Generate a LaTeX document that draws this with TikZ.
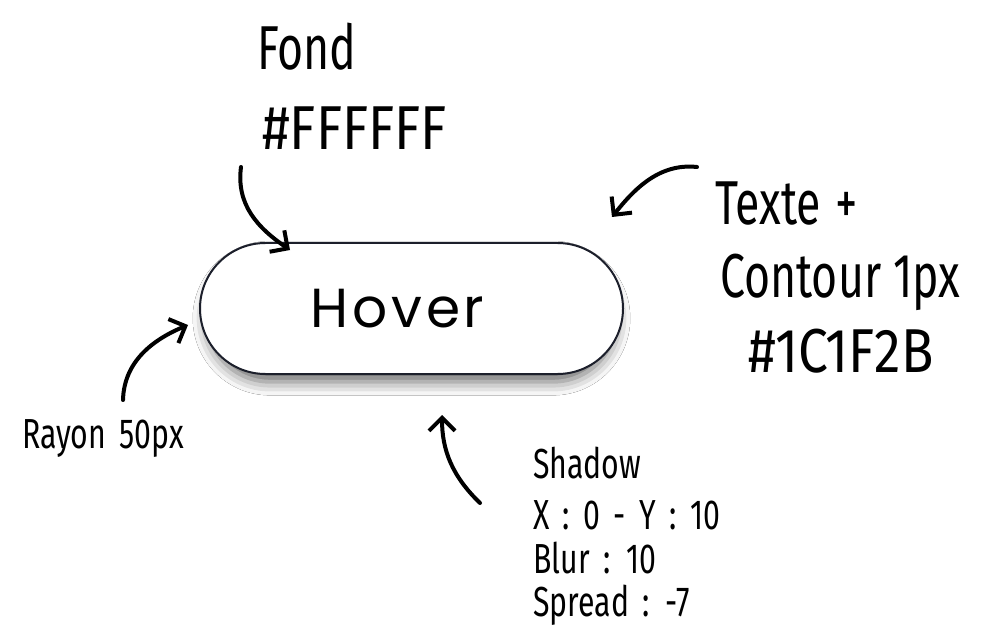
\documentclass[tikz,border=0pt]{standalone}
\usepackage{fontspec}
\setmainfont{Poppins}
\newfontfamily\hoverfont[LetterSpace=7]{Poppins}
\newfontfamily\hand[FakeStretch=0.72]{Fira Sans}
\newfontfamily\handwide[FakeStretch=0.86]{Fira Sans}
\newcommand\smallhand{\hand\fontsize{42}{42}\selectfont\spaceskip 0.32em\relax}
\usetikzlibrary{arrows.meta,shadows.blur}
\definecolor{ink}{HTML}{1C1F2B}
\tikzset{
  note/.style={anchor=base west, inner sep=0pt, text=black, font=\hand\fontsize{62}{62}\selectfont},
  hexnote/.style={anchor=base west, inner sep=0pt, text=black, font=\handwide\fontsize{62}{62}\selectfont},
  smallnote/.style={anchor=base west, inner sep=0pt, text=black, font=\smallhand},
  pointer/.style={draw=black, line width=4pt, line cap=round, line join=round,
    -{Straight Barb[length=13pt,width=26pt,line width=4pt]}},
  pill/.style={draw=ink, line width=2pt, fill=white, rounded corners=65.5pt,
    minimum width=423pt, minimum height=131pt, inner sep=0pt,
    blur shadow={shadow xshift=0pt, shadow yshift=-10pt, shadow blur radius=14pt,
      shadow opacity=60, shadow scale=0.97}},
  label/.style={inner sep=0pt, text=black, font=\hoverfont\fontsize{55}{55}\selectfont}
}
\begin{document}
\begin{tikzpicture}[x=1pt,y=-1pt]
\useasboundingbox (0,0) rectangle (982,628);
\fill[white] (0,0) rectangle (982,628);

\node[pill] (btn) at (411.5,308.5) {};
\node[label] (hover) at ([xshift=-14pt]btn.center) {Hover};

\node[note] (fond) at (257,70) {Fond};
\node[hexnote] (fff) at (262,150) {\#FFFFFF};
\node[note] (texte) at (715,225) {Texte\hspace{14pt}+};
\node[note] (contour) at (720,298) {Contour 1px};
\node[hexnote] (col) at (748,372) {\#1C1F2B};
\node[smallnote] (rayon) at (22,448) {Rayon 50px};
\node[smallnote] (shadow) at (533,478) {Shadow};
\node[smallnote] (xy) at (533,529) {X : 0 - Y : 10};
\node[smallnote] (blur) at (533,573) {Blur : 10};
\node[smallnote] (spread) at (533,616) {Spread : -7};

\coordinate (a1s) at (241,167); \coordinate (a1e) at (290,250);
\coordinate (a2s) at (697,167); \coordinate (a2e) at (612,217);
\coordinate (a3s) at (123,400); \coordinate (a3e) at (188,325);
\coordinate (a4s) at (480,503); \coordinate (a4e) at (442,415);

\draw[pointer] (a1s) .. controls (236,205) and (258,228) .. (a1e);
\draw[pointer] (a2s) .. controls (660,163) and (635,188) .. (a2e);
\draw[pointer] (a3s) .. controls (124,362) and (152,340) .. (a3e);
\draw[pointer] (a4s) .. controls (452,476) and (442,450) .. (a4e);
\end{tikzpicture}
\end{document}
